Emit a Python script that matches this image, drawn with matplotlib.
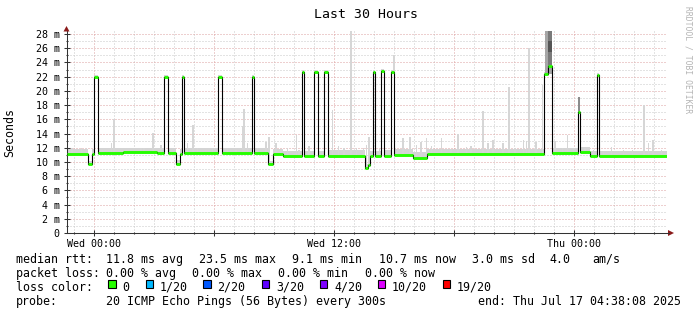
import numpy as np
import matplotlib
matplotlib.use("Agg")
import matplotlib.pyplot as plt
from matplotlib.patches import Rectangle, Polygon
from matplotlib.ticker import FixedLocator, FixedFormatter

# ---------------- data (hours since Tue 22:38:08, values in ms) ----------------
med_t = [0.0, 1.07, 1.26, 1.39, 1.59, 2.83, 4.53, 4.89, 5.09, 5.48, 5.66, 5.76, 5.89,
         7.59, 7.76, 9.26, 9.39, 10.08, 10.33, 10.83, 11.76, 11.89, 12.39, 12.59, 12.89,
         13.09, 14.93, 15.08, 15.18, 15.34, 15.43, 15.73, 15.89, 16.23, 16.39, 17.33,
         18.03, 23.89, 24.08, 24.26, 25.59, 25.66, 26.18, 26.51, 26.61]
med_v = [11.1, 9.7, 11.1, 21.9, 11.2, 11.4, 11.2, 21.9, 11.2, 9.75, 11.1, 21.9, 11.2,
         21.9, 11.2, 21.9, 11.2, 9.7, 11.1, 10.8, 22.6, 10.8, 22.7, 10.8, 22.7,
         10.8, 9.1, 9.6, 10.8, 22.7, 10.8, 22.8, 10.9, 22.6, 11.0, 10.6,
         11.1, 22.4, 23.5, 11.2, 17.0, 11.45, 10.9, 22.2, 10.8]
med_end = 30.0
band_d = [0.7, 0.4, 0.7, 0.3, 0.7, 0.6, 0.7, 0.3, 0.7, 0.5, 0.7, 0.3, 0.7,
          0.3, 0.7, 0.3, 0.8, 0.5, 0.7, 0.8, 0.3, 0.8, 0.3, 0.8, 0.3,
          0.9, 0.6, 0.5, 0.8, 0.3, 0.8, 0.3, 0.8, 0.3, 0.8, 0.8,
          0.7, 0.3, 0.3, 0.7, 0.3, 0.7, 0.7, 0.3, 0.7]

spike_t = [0.28, 0.75, 1.0, 1.8, 2.25, 2.38, 3.0, 3.73, 3.88, 4.33, 4.73, 6.05, 6.33,
           6.55, 7.3, 8.05, 8.48, 8.8, 8.88, 9.05, 9.55, 9.98, 10.13, 10.48, 10.73,
           11.05, 11.5, 11.63, 12.13, 13.3, 13.6, 13.88, 14.23, 14.5, 14.85, 15.0,
           15.13, 15.65, 16.38, 16.83, 17.18, 17.5, 17.73, 18.0, 18.25, 18.75, 19.23,
           19.58, 20.0, 20.23, 20.83, 21.08, 21.33, 21.83, 22.13, 22.43, 22.85, 23.0,
           23.13, 23.48, 23.8, 24.43, 24.8, 25.05, 25.35, 25.93, 26.35, 26.85, 27.25,
           27.85, 28.3, 28.88, 29.1, 29.33, 29.75]
spike_top = [11.9, 11.9, 11.9, 11.7, 12.6, 16.1, 11.7, 11.9, 11.9, 14.1, 12.4, 12.6, 15.2,
             11.9, 11.8, 11.8, 11.7, 15.0, 17.5, 12.6, 12.0, 12.8, 13.5, 12.6, 11.7,
             12.0, 13.8, 11.7, 12.2, 17.3, 12.2, 11.9, 28.4, 11.9, 11.9, 12.4,
             13.5, 11.8, 25.0, 13.3, 13.5, 12.4, 12.8, 13.4, 12.2, 13.3, 11.8,
             13.9, 12.1, 12.2, 17.1, 12.6, 13.1, 12.6, 20.6, 12.0, 13.1, 13.0,
             26.0, 12.8, 20.8, 12.9, 11.9, 13.8, 11.9, 11.9, 11.7, 11.5, 12.1,
             11.7, 11.7, 18.0, 12.6, 13.1, 11.7]

dark_t0 = [23.93, 24.06, 24.06, 25.59]
dark_t1 = [24.28, 24.28, 24.28, 25.67]
dark_lo = [22.4, 23.5, 25.5, 17.0]
dark_hi = [28.42, 28.42, 27.0, 19.2]
dark_shade = ["#a6a6a6", "#7a7a7a", "#555555", "#8c8c8c"]

loss_labels = ["0", "1/20", "2/20", "3/20", "4/20", "10/20", "19/20"]
loss_colors = ["#26ff00", "#00b8ff", "#0059ff", "#5e00ff", "#7e00ff", "#dd00ff", "#ff0000"]

ytick_vals = list(range(0, 29, 2))
ytick_labels = ["0" if v == 0 else f"{v} m" for v in ytick_vals]
xmajor = [1.3644, 7.3644, 13.3644, 19.3644, 25.3644]
xmajor_labels = ["Wed 00:00", "", "Wed 12:00", "", "Thu 00:00"]
xminor = [0.3644 + k for k in range(30)]

# ---------------- figure ----------------
W, H = 697, 315
MONO = "DejaVu Sans Mono"
plt.rcParams["font.family"] = MONO
fig = plt.figure(figsize=(W / 100, H / 100), dpi=100)
fig.patch.set_facecolor("white")
L, R, T, B = 66.5, 666.5, 31, 233
ax = fig.add_axes([L / W, 1 - B / H, (R - L) / W, (B - T) / H])
ax.set_xlim(0, 30)
ax.set_ylim(0, (B - T) / (199 / 28))

def px(x, y):
    return (x / W, 1 - y / H)

# grid
ax.xaxis.set_major_locator(FixedLocator(xmajor))
ax.xaxis.set_major_formatter(FixedFormatter(xmajor_labels))
ax.xaxis.set_minor_locator(FixedLocator(xminor))
ax.yaxis.set_major_locator(FixedLocator(ytick_vals))
ax.yaxis.set_major_formatter(FixedFormatter(ytick_labels))
ax.yaxis.set_minor_locator(FixedLocator(list(range(1, 29, 2))))
ax.grid(which="minor", color="#c8c8c8", linestyle=(0, (1, 2)), lw=0.72)
ax.grid(which="major", color="#dca0a0", linestyle=(0, (1, 2)), lw=0.72)
ax.set_axisbelow(True)
ax.tick_params(which="both", direction="inout", color="#333333", width=0.75)
ax.tick_params(which="major", length=4, labelsize=7.2, pad=3)
ax.tick_params(which="minor", length=2)
ax.tick_params(axis="x", which="major", pad=2.5)
for s in ["top", "right"]:
    ax.spines[s].set_visible(False)
for s in ["left", "bottom"]:
    ax.spines[s].set_color("#333333")
    ax.spines[s].set_linewidth(0.75)

# smoke
t_arr = np.array(med_t)
ends = np.array(med_t[1:] + [med_end])
v_arr = np.array(med_v)
ax.bar(t_arr, np.array(band_d), width=ends - t_arr, bottom=v_arr, align="edge",
       color="#d4d4d4", lw=0, zorder=2)
idx = np.searchsorted(t_arr, np.array(spike_t), side="right") - 1
base = v_arr[idx]
ax.bar(spike_t, np.array(spike_top) - base, bottom=base, width=0.08,
       color="#d6d6d6", lw=0, zorder=2)
for a, b_, lo, hi, c in zip(dark_t0, dark_t1, dark_lo, dark_hi, dark_shade):
    ax.add_patch(Rectangle((a, lo), b_ - a, hi - lo, color=c, lw=0, zorder=2.5))

# median line: black step + green horizontal pieces
ax.step(list(med_t) + [med_end], list(med_v) + [med_v[-1]], where="post",
        color="black", lw=0.8, zorder=3)
ax.hlines(v_arr, t_arr, ends, color=loss_colors[0], lw=2.1, zorder=4)

# axis arrows
fig.add_artist(Polygon([px(63.5, 31.5), px(69.5, 31.5), px(66.5, 26)], closed=True,
                       transform=fig.transFigure, color="#8b1a1a", lw=0))
fig.add_artist(plt.Line2D([R / W, 669 / W], [1 - B / H, 1 - B / H],
                          transform=fig.transFigure, color="#333333", lw=0.75))
fig.add_artist(Polygon([px(668, 230), px(668, 236), px(674, 233)], closed=True,
                       transform=fig.transFigure, color="#8b1a1a", lw=0))

# texts
fig.text(366 / W, 1 - 18.3 / H, "Last 30 Hours", ha="center", va="baseline", fontsize=9.5)
fig.text(10 / W, 1 - 132 / H, "Seconds", rotation=90, ha="center", va="center", fontsize=8.4)
fig.text(688 / W, 1 - 60 / H, "RRDTOOL / TOBI OETIKER", rotation=270, ha="center",
         va="center", fontsize=5.8, color="#b4b4b4")

FS = 8.4
def t(x, y, s):
    fig.text((x - 0.8) / W, 1 - y / H, s, ha="left", va="baseline", fontsize=FS)

y1, y2, y3, y4 = 262.7, 276.7, 290.7, 305
t(16.7, y1, "median rtt:")
for x, s in [(107.3, "11.8 ms avg"), (200, "23.5 ms max"), (293.3, "9.1 ms min"),
             (379.3, "10.7 ms now"), (472.7, "3.0 ms sd"), (550.7, "4.0"), (593.3, "am/s")]:
    t(x, y1, s)
t(16.7, y2, "packet loss:")
for x, s in [(107.3, "0.00 % avg"), (193.3, "0.00 % max"), (279.3, "0.00 % min"),
             (366, "0.00 % now")]:
    t(x, y2, s)
t(16.7, y3, "loss color:")
box_x = [108.3, 145.7, 203.3, 261.7, 320, 377.7, 442.7]
for bx, lab, col in zip(box_x, loss_labels, loss_colors):
    fig.add_artist(Rectangle(px(bx, 287.5), 7.3 / W, 7.3 / H, transform=fig.transFigure,
                             facecolor=col, edgecolor="black", lw=0.8))
    t(bx + 15, y3, lab)
t(16.7, y4, "probe:")
t(107.3, y4, "20 ICMP Echo Pings (56 Bytes) every 300s")
t(478.3, y4, "end: Thu Jul 17 04:38:08 2025")

fig.savefig("out.png", dpi=100, facecolor="white")
